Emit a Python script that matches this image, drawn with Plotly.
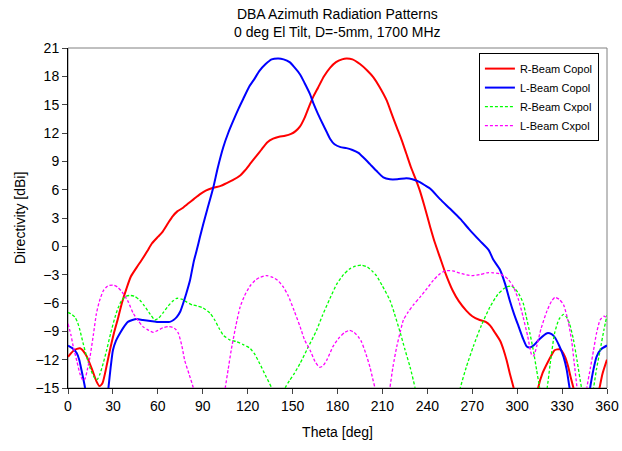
import plotly.graph_objects as go

# R-Beam Copol
r_co_theta = [0, 4, 8, 12, 16, 19, 21, 23, 26, 28, 31, 33.6, 36, 39, 42, 46, 49, 53, 56, 60, 63, 67, 70, 73, 76, 80, 84, 88, 92, 97, 102, 106, 110, 115, 118, 122, 126, 129, 133, 137, 141, 145, 149, 152, 155, 158, 161, 164, 167, 171, 175, 179, 183, 186, 190, 195, 200, 204, 208, 213, 216, 219.6, 223, 226, 229, 232, 235, 238, 242, 245, 248.5, 252, 257, 261, 266, 270, 275, 279, 282, 285, 288.6, 291, 293, 295, 297.5, 300, 305, 310, 314, 317, 320, 323, 325, 328.6, 332, 334, 335.5, 337.6, 340, 345, 350, 355, 357, 360]
r_co_val = [-11.7, -11.0, -10.8, -11.5, -13, -14.3, -14.8, -14.5, -12.5, -11, -9, -7.5, -6, -4.5, -3.2, -2.2, -1.5, -0.5, 0.3, 1.0, 1.5, 2.5, 3.2, 3.7, 4.0, 4.5, 5.0, 5.5, 5.9, 6.2, 6.4, 6.7, 7.0, 7.5, 8.0, 8.8, 9.6, 10.2, 11.0, 11.4, 11.6, 11.7, 11.9, 12.2, 12.7, 13.6, 14.8, 15.9, 16.8, 18.0, 18.9, 19.5, 19.8, 19.9, 19.8, 19.3, 18.6, 17.9, 16.9, 15.4, 14.1, 12.6, 11.2, 9.8, 8.4, 7.2, 5.9, 4.3, 2.0, 0.4, -1.2, -2.8, -4.7, -5.8, -6.8, -7.4, -7.8, -8.0, -8.4, -9.1, -10.0, -11.0, -12.1, -13.4, -14.9, -17, -20, -20, -15, -13.4, -12.4, -11.5, -11.0, -10.9, -11.7, -12.7, -13.7, -15, -17, -20, -19, -15, -13.5, -12]

# L-Beam Copol
l_co_theta = [0, 3, 5.8, 7.5, 9, 11.4, 14, 20, 25, 27, 28.5, 30, 32, 34.7, 37, 40, 43, 46, 50, 55, 60, 65, 68, 70.5, 72.6, 75, 77, 79, 81.5, 84, 86, 88, 90.4, 93, 97, 100, 103.7, 107, 110.4, 114, 117, 121, 124, 128, 132, 136, 140.5, 144, 148, 151, 155, 158, 161.7, 164, 167, 170, 172.8, 175, 178, 182, 186, 190, 194, 198, 201.7, 206, 210.6, 215, 220, 226, 230, 235, 239, 242, 248.5, 255, 262, 268, 275, 281, 284, 288.6, 292, 295, 298, 301, 304, 306.4, 308.5, 310.9, 315, 320, 323, 325, 328, 331, 333, 335, 338, 342, 346, 348.7, 351, 353, 356, 360]
l_co_val = [-10.5, -10.8, -11.3, -12, -13.1, -15, -18, -22, -18, -15, -12.8, -11, -10, -9.2, -8.6, -8.0, -7.8, -7.7, -7.8, -7.9, -8.0, -8.0, -8.0, -7.8, -7.5, -6.9, -6.0, -5.0, -3.6, -1.6, -0.4, 0.9, 2.4, 3.9, 6.2, 8.3, 10.5, 12.0, 13.3, 14.6, 15.6, 16.9, 17.6, 18.6, 19.3, 19.8, 19.9, 19.8, 19.5, 19.0, 18.2, 17.3, 16.1, 15.1, 14.0, 13.0, 12.1, 11.4, 10.8, 10.5, 10.4, 10.2, 9.9, 9.3, 8.7, 8.0, 7.3, 7.1, 7.1, 7.2, 7.1, 6.8, 6.4, 6.1, 5.0, 4.0, 2.9, 1.8, 0.6, -0.4, -1.4, -2.5, -4.0, -5.7, -7.2, -8.5, -9.8, -10.6, -10.7, -10.5, -9.8, -9.2, -9.3, -9.6, -10.5, -11.7, -13.0, -15, -18, -22, -18, -15, -13, -11.7, -10.9, -10.5]

# R-Beam Cxpol
r_cx_theta = [0, 2.5, 4.7, 6.5, 8, 10, 12.5, 15, 18, 19.5, 21.4, 23.5, 25.8, 28.5, 31.4, 33.5, 35.9, 38.5, 41.4, 44.5, 48, 51, 55, 58, 60.5, 63.7, 67, 70, 72.6, 76, 79.3, 83, 86, 90, 95, 98, 101, 103.7, 108, 112.7, 117, 121.6, 125, 128, 132, 136, 140, 145, 148, 151, 155, 160, 166, 170, 175, 179.5, 184, 188, 192, 196, 200, 203, 206, 210, 215, 218, 222, 225, 228.5, 231.8, 235, 245, 255, 262, 266, 270.7, 276, 281.9, 287, 291, 293, 296, 298.6, 301, 304, 306, 308.5, 311, 313, 315, 317, 320, 322, 325, 328, 331, 333, 335, 337.5, 340, 343, 347, 351, 353, 355.4, 358, 360]
r_cx_val = [-7.0, -7.2, -7.5, -8.1, -8.9, -10.2, -11.7, -13.0, -14.0, -14.1, -13.5, -12.4, -11.0, -9.2, -7.5, -6.5, -5.7, -5.3, -5.2, -5.3, -5.7, -6.3, -7.2, -7.8, -7.6, -7.0, -6.3, -5.8, -5.5, -5.6, -5.9, -6.2, -6.3, -6.5, -7.1, -7.8, -8.7, -9.4, -9.9, -10.1, -10.4, -10.8, -11.5, -12.4, -13.7, -15, -17, -15, -14.2, -13.5, -12.4, -10.8, -8.9, -7.3, -5.5, -4.0, -3.0, -2.4, -2.1, -2.0, -2.2, -2.6, -3.1, -4.2, -5.7, -7.1, -9.2, -10.9, -12.8, -15, -18, -25, -20, -15, -12.8, -10.6, -8.4, -6.4, -5.1, -4.5, -4.3, -4.2, -4.5, -5.0, -6.0, -7.4, -9.2, -11.2, -13.1, -15, -17, -15, -12.5, -9.2, -7.7, -7.2, -7.5, -8.2, -9.8, -12.1, -15, -18, -15, -13, -11, -8.8, -7.3]

# L-Beam Cxpol
l_cx_theta = [0, 2, 3.5, 6, 8, 10, 11.4, 13, 14.7, 17, 19, 21, 23.6, 26.5, 30, 33, 36, 40, 43.6, 47, 50, 54, 57, 60, 63.7, 67, 70, 72, 73.7, 76, 78, 81, 83.7, 88, 95, 102, 105, 107, 109, 112, 115, 118, 121.6, 125, 128, 132.7, 137, 140, 143.8, 147, 151, 155, 158, 161.7, 165, 168, 170, 173, 177, 181, 185, 188, 191, 194, 196, 199, 201.7, 203.5, 205, 208, 212, 215, 217, 219.6, 222, 224, 227, 230.7, 235, 239.6, 244, 248.5, 252, 257, 263, 269.6, 275, 280, 284, 288, 290.8, 294, 297.5, 301, 304, 307, 309.7, 311, 313, 316, 320, 323, 325.3, 328, 331, 334, 336.4, 338, 340, 343, 346.5, 349, 351, 353, 355.4, 358, 360]
l_cx_val = [-8.2, -9.4, -10.6, -12.2, -13.5, -14.2, -14.0, -13.0, -11.7, -9.3, -7.1, -5.8, -4.7, -4.2, -4.1, -4.3, -4.8, -5.8, -7.1, -7.9, -8.5, -8.9, -9.1, -8.9, -8.6, -8.5, -8.6, -8.8, -9.2, -10.5, -12.1, -13.6, -15, -19, -22, -18, -15, -13, -11, -8.5, -6.4, -5.2, -4.2, -3.6, -3.3, -3.1, -3.3, -3.6, -4.3, -5.2, -6.8, -8.5, -9.9, -11.0, -12.2, -12.8, -12.7, -12.0, -10.6, -9.7, -9.1, -8.9, -9.1, -9.6, -10.1, -11.4, -12.8, -14.0, -15, -18, -18, -15, -12.8, -10.6, -9.0, -7.8, -7.0, -6.2, -5.4, -4.5, -3.6, -2.9, -2.6, -2.6, -2.9, -3.1, -3.0, -2.8, -2.8, -2.9, -3.1, -3.5, -4.3, -5.7, -7.5, -9.5, -11.5, -11.6, -10.6, -8.7, -6.8, -5.8, -5.4, -5.6, -6.2, -7.9, -10, -12.2, -15, -19, -15, -12.8, -11, -9.2, -7.8, -7.4, -7.6]

x_ticks = list(range(0, 361, 30))
y_ticks = list(range(-15, 22, 3))

FONT = "Arial, Liberation Sans, sans-serif"

fig = go.Figure()
fig.add_trace(go.Scatter(x=r_co_theta, y=r_co_val, mode="lines", name="R-Beam Copol",
                         line=dict(color="#ff0000", width=2, shape="spline", smoothing=0.6)))
fig.add_trace(go.Scatter(x=l_co_theta, y=l_co_val, mode="lines", name="L-Beam Copol",
                         line=dict(color="#0000ff", width=2, shape="spline", smoothing=0.6)))
fig.add_trace(go.Scatter(x=r_cx_theta, y=r_cx_val, mode="lines", name="R-Beam Cxpol",
                         line=dict(color="#00ff00", width=1.3, dash="3px,2px", shape="spline", smoothing=0.6)))
fig.add_trace(go.Scatter(x=l_cx_theta, y=l_cx_val, mode="lines", name="L-Beam Cxpol",
                         line=dict(color="#ff00ff", width=1.3, dash="3px,2px", shape="spline", smoothing=0.6)))

fig.update_layout(
    width=622, height=451,
    margin=dict(l=68, r=15, t=48, b=63, autoexpand=False),
    paper_bgcolor="white", plot_bgcolor="white",
    font=dict(family=FONT, size=14, color="black"),
    legend=dict(x=0.985, y=0.985, xanchor="right", yanchor="top",
                bgcolor="white", bordercolor="black", borderwidth=1,
                font=dict(family=FONT, size=11, color="black"),
                itemwidth=30, tracegroupgap=0),
    shapes=[dict(type="rect", xref="paper", yref="paper", x0=0, y0=0, x1=1, y1=1,
                 line=dict(color="#808080", width=1), layer="below")],
    annotations=[dict(text="DBA Azimuth Radiation Patterns<br>0 deg El Tilt, D=-5mm, 1700 MHz",
                      xref="paper", yref="paper", x=0.5, y=1, xanchor="center", yanchor="bottom",
                      yshift=6, showarrow=False, align="center",
                      font=dict(family=FONT, size=14, color="black"))],
)
fig.update_xaxes(range=[0, 360], tickvals=x_ticks, ticks="outside", ticklen=5, automargin=False,
                 showline=True, linecolor="black", linewidth=1, showgrid=False, zeroline=False,
                 title=dict(text="Theta [deg]", font=dict(size=14), standoff=14), tickfont=dict(size=14))
fig.update_yaxes(range=[-15, 21], tickvals=y_ticks, ticks="outside", ticklen=5, automargin=False,
                 showline=True, linecolor="black", linewidth=1, showgrid=False, zeroline=False,
                 title=dict(text="Directivity [dBi]", font=dict(size=14), standoff=6), tickfont=dict(size=14))

fig.write_html("out.html")
